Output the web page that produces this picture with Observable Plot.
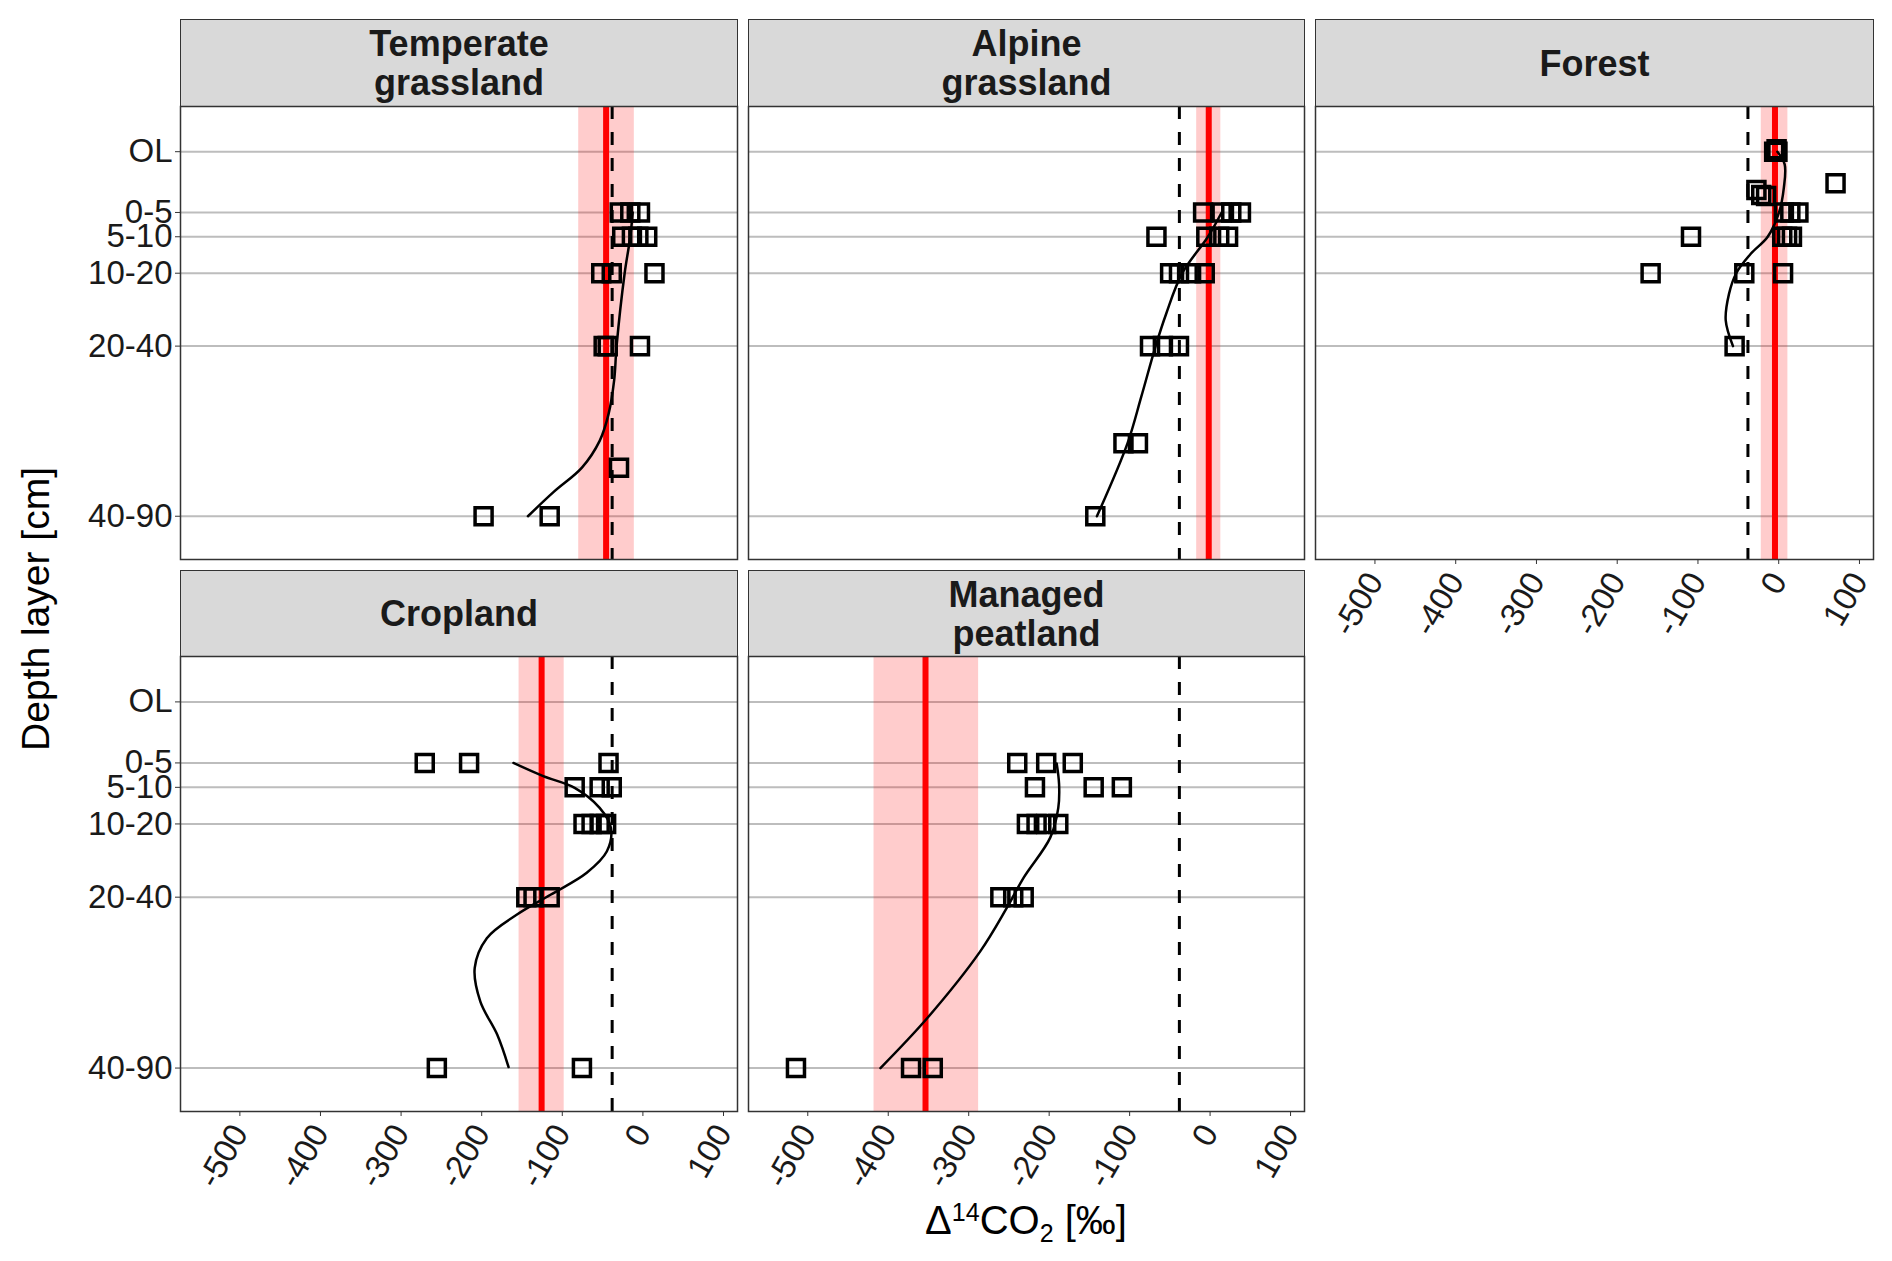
<!DOCTYPE html>
<html><head><meta charset="utf-8">
<script src="https://cdn.jsdelivr.net/npm/d3@7"></script>
<script src="https://cdn.jsdelivr.net/npm/@observablehq/plot@0.6"></script>
<style>
body{margin:0;background:#fff;font-family:"Liberation Sans",Arial,sans-serif;}
#root{position:relative;width:1892px;height:1261px;overflow:hidden;background:#fff;}
.strip{position:absolute;box-sizing:border-box;background:#d9d9d9;border:1.5px solid #333;display:flex;align-items:center;justify-content:center;text-align:center;font-weight:bold;font-size:36px;line-height:39px;color:#1a1a1a;}
.panel{position:absolute;}
.ytitle{position:absolute;left:36px;top:609px;transform:translate(-50%,-50%) rotate(-90deg);white-space:nowrap;font-size:39px;color:#000;}
.xtitle{position:absolute;left:1026px;top:1200px;transform:translateX(-50%);white-space:nowrap;font-size:40px;line-height:1;color:#000;}
.xtitle .sup{font-size:25px;position:relative;top:-13px;}
.xtitle .sub{font-size:25px;position:relative;top:8px;}
</style></head><body><div id="root"></div>
<script>
// ---- axis ticks ----
const depthTicks = [-10, 2.5, 7.5, 15, 30, 65];
const depthLabels = ["OL", "0-5", "5-10", "10-20", "20-40", "40-90"];
const xTicks = [-500, -400, -300, -200, -100, 0, 100];
const atmReference = -24.5;

// ---- facets ----
const biomes = ["Temperate grassland", "Alpine grassland", "Forest", "Cropland", "Managed peatland"];
const stripLabels = ["Temperate<br>grassland", "Alpine<br>grassland", "Forest", "Cropland", "Managed<br>peatland"];

// ---- mean and band per biome ----
const meanD14C = [-32, 12, 9, -112, -340];
const bandLow = [-66, -3, -8, -140, -404];
const bandHigh = [3, 27, 25, -84, -274];

// ---- observations (depth in cm, Δ14CO2 in ‰) ----
const temperateDepth = [2.5, 2.5, 2.5, 7.5, 7.5, 7.5, 7.5, 15, 15, 15, 30, 30, 30, 55, 65, 65];
const temperateD14C = [-15, -2, 10, -12, 0, 8, 19, -38, -25, 28, -35, -30, 10, -16, -184, -102];
const alpineDepth = [2.5, 2.5, 2.5, 2.5, 7.5, 7.5, 7.5, 7.5, 15, 15, 15, 15, 30, 30, 30, 50, 50, 65];
const alpineD14C = [5, 28, 40, 52, -53, 9, 25, 36, -36, -25, -10, 7, -61, -45, -25, -94, -76, -129];
const forestDepth = [-10, -10.5, -10, -3.5, -2.1, -1.1, -0.9, 2.5, 2.5, 2.5, 7.5, 7.5, 7.5, 7.5, 15, 15, 15, 30];
const forestD14C = [8, 11, 12, 84, -14, -8, -2, 20, 28, 38, -95, 18, 24, 30, -145, -29, 19, -41];
const croplandDepth = [2.5, 2.5, 2.5, 7.5, 7.5, 7.5, 15, 15, 15, 15, 30, 30, 30, 65, 65];
const croplandD14C = [-257, -202, -29, -71, -40, -25, -60, -50, -40, -32, -131, -122, -102, -242, -62];
const peatlandDepth = [2.5, 2.5, 2.5, 7.5, 7.5, 7.5, 15, 15, 15, 15, 30, 30, 30, 65, 65, 65];
const peatlandD14C = [-226, -190, -157, -204, -131, -96, -214, -202, -190, -175, -247, -231, -218, -501, -358, -331];

// ---- smoothed profiles ----
const temperateFitDepth = [2.5, 7.5, 15, 30, 37, 44, 49.5, 55, 60, 65];
const temperateFitD14C = [1, -2, -9, -19, -22, -29, -40, -62, -97, -129];
const alpineFitDepth = [2.5, 7.5, 15, 23.4, 30, 40.5, 50, 65];
const alpineFitD14C = [28, 11, -21, -41, -54, -72, -89, -127];
const forestFitDepth = [-10, -7.4, -2.6, 2.5, 7.5, 11, 15, 19.3, 24.7, 30];
const forestFitD14C = [12, 21, 20, 14, 0, -21, -39, -48, -52, -43];
const croplandFitDepth = [2.5, 5.2, 7.6, 11.7, 15.8, 20.6, 25, 29.5, 33.6, 38.4, 44.5, 51.4, 58.2, 64.8];
const croplandFitD14C = [-147, -110, -71, -40, -26, -31, -56, -101, -143, -180, -195, -188, -167, -153];
const peatlandFitDepth = [2.6, 6.9, 11.7, 17.8, 26, 32.2, 41.1, 54.8, 65];
const peatlandFitD14C = [-177, -174, -175, -185, -218, -239, -272, -338, -396];

const obsDepth = [temperateDepth, alpineDepth, forestDepth, croplandDepth, peatlandDepth];
const obsD14C = [temperateD14C, alpineD14C, forestD14C, croplandD14C, peatlandD14C];
const fitDepth = [temperateFitDepth, alpineFitDepth, forestFitDepth, croplandFitDepth, peatlandFitDepth];
const fitD14C = [temperateFitD14C, alpineFitD14C, forestFitD14C, croplandFitD14C, peatlandFitD14C];

// ---- layout ----
const panelLeft = [180, 748, 1315, 180, 748];
const panelWidth = [557, 556, 558, 557, 556];
const panelTop = [106, 106, 106, 656, 656];
const panelHeight = [453, 453, 453, 455, 455];
const stripTop = [19, 19, 19, 570, 570];
const showY = [true, false, false, true, false];
const showX = [false, false, true, true, true];

const root = document.getElementById("root");
const labelOf = new Map(depthTicks.map((d, i) => [d, depthLabels[i]]));
const FONT = '"Liberation Sans", Arial, sans-serif';

biomes.forEach((name, k) => {
  const strip = document.createElement("div");
  strip.className = "strip";
  strip.style.left = panelLeft[k] + "px";
  strip.style.top = stripTop[k] + "px";
  strip.style.width = (panelWidth[k] + 1) + "px";
  strip.style.height = (panelTop[k] - stripTop[k] + 1) + "px";
  strip.innerHTML = stripLabels[k];
  root.appendChild(strip);

  const mL = 160, mR = 6, mT = 4, mB = 140;
  const obs = d3.range(obsDepth[k].length);
  const fit = d3.range(fitDepth[k].length);
  const marks = [
    Plot.ruleY(depthTicks, {stroke: "#bdbdbd", strokeWidth: 2}),
    Plot.rect([k], {x1: d => bandLow[d], x2: d => bandHigh[d], fill: "red", fillOpacity: 0.2}),
    Plot.ruleX([k], {x: d => meanD14C[d], stroke: "red", strokeWidth: 6}),
    Plot.ruleX([atmReference], {stroke: "black", strokeWidth: 3, strokeDasharray: "13,13"}),
    Plot.dot(obs, {x: i => obsD14C[k][i], y: i => obsDepth[k][i], symbol: "square", r: 9.6, stroke: "black", strokeWidth: 3.5, fill: "none"}),
    Plot.line(fit, {x: i => fitD14C[k][i], y: i => fitDepth[k][i], curve: "catmull-rom", stroke: "black", strokeWidth: 2.5}),
    Plot.frame({stroke: "#333", strokeWidth: 1.5})
  ];
  if (showY[k]) marks.push(Plot.axisY(depthTicks, {tickFormat: d => labelOf.get(d), fontSize: 33, tickSize: 5, tickPadding: 3, stroke: "#333", fill: "#1a1a1a"}));
  if (showX[k]) marks.push(Plot.axisX(xTicks, {tickFormat: d => String(d), fontSize: 33, tickSize: 5, tickRotate: -60, textAnchor: "end", lineAnchor: "middle", tickPadding: 11, dx: 11, stroke: "#333", fill: "#1a1a1a"}));

  const svg = Plot.plot({
    width: panelWidth[k] + mL + mR,
    height: panelHeight[k] + mT + mB,
    marginLeft: mL, marginRight: mR, marginTop: mT, marginBottom: mB,
    x: {domain: [-560, 131], axis: null},
    y: {domain: [-19.3, 73.9], reverse: true, axis: null},
    style: {fontFamily: FONT, overflow: "visible", background: "transparent", color: "#1a1a1a"},
    marks
  });
  const wrap = document.createElement("div");
  wrap.className = "panel";
  wrap.style.left = (panelLeft[k] - mL) + "px";
  wrap.style.top = (panelTop[k] - mT) + "px";
  wrap.appendChild(svg);
  root.appendChild(wrap);
});

const yt = document.createElement("div");
yt.className = "ytitle";
yt.textContent = "Depth layer [cm]";
root.appendChild(yt);

const xt = document.createElement("div");
xt.className = "xtitle";
xt.innerHTML = 'Δ<span class="sup">14</span>CO<span class="sub">2</span> [‰]';
root.appendChild(xt);
</script></body></html>
